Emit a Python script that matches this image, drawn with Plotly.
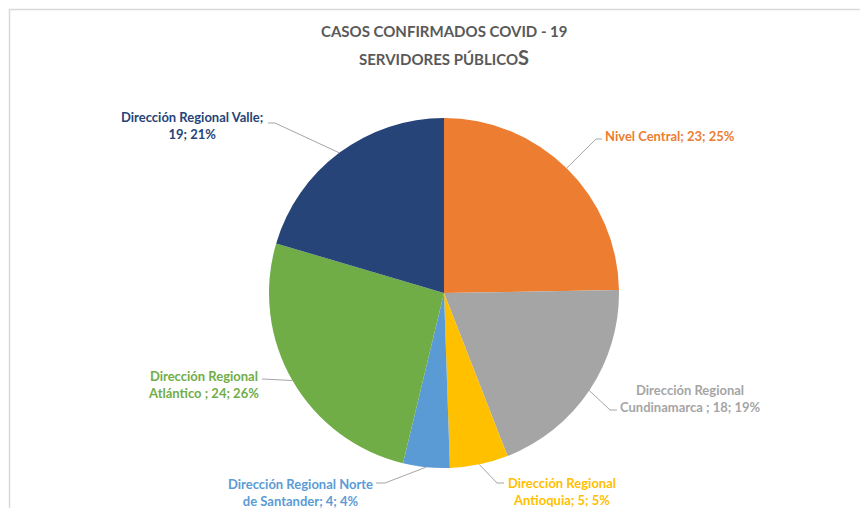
import math
import plotly.graph_objects as go

# ---------------- data ----------------
categories = [
    "Nivel Central",
    "Dirección Regional Cundinamarca",
    "Dirección Regional Antioquia",
    "Dirección Regional Norte de Santander",
    "Dirección Regional Atlántico",
    "Dirección Regional Valle",
]
values = [23, 18, 5, 4, 24, 19]
pct_labels = ["25%", "19%", "5%", "4%", "26%", "21%"]
colors = ["#ED7D31", "#A5A5A5", "#FFC000", "#5B9BD5", "#70AD47", "#264478"]

# label text templates (line breaks as shown in the chart)
label_templates = [
    "Nivel Central; {v}; {p}",
    "Dirección Regional<br>Cundinamarca ; {v}; {p}",
    "Dirección Regional<br>Antioquia; {v}; {p}",
    "Dirección Regional Norte<br>de Santander; {v}; {p}",
    "Dirección Regional<br>Atlántico ; {v}; {p}",
    "Dirección Regional Valle;<br>{v}; {p}",
]

# ---------------- layout constants (pixels, screen coordinates) ----------------
W, H = 868, 508
OFF = 8  # page offset of the figure inside the browser window
CX, CY, R = 444, 293, 175
FONT = "Lato"

# label placement: text anchor (x, y), xanchor, elbow point, line end point
label_layout = [
    dict(tx=603, ty=136, xa="left",   elbow=(596, 139), end=(602, 139)),
    dict(tx=690, ty=398, xa="center", elbow=(610, 410), end=(617, 410)),
    dict(tx=562, ty=491, xa="center", elbow=(497, 483), end=(504, 483)),
    dict(tx=300, ty=492, xa="center", elbow=(385, 483), end=(376, 483)),
    dict(tx=203, ty=384, xa="center", elbow=None,       end=(262, 379)),
    dict(tx=192, ty=125, xa="center", elbow=(275, 123), end=(268, 123)),
]


def px(x):
    return (x - OFF) / W


def py(y):
    return 1 - (y - OFF) / H


fig = go.Figure()
fig.add_trace(go.Pie(
    labels=categories,
    values=values,
    sort=False,
    direction="clockwise",
    rotation=0,
    marker=dict(colors=colors, line=dict(width=0)),
    textinfo="none",
    hoverinfo="label+value+percent",
    showlegend=False,
    domain=dict(x=[px(CX - R), px(CX + R)], y=[py(CY + R), py(CY - R)]),
))

# leader lines + labels, anchored at each slice's mid-angle on the pie edge
total = sum(values)
cum = 0
shapes = []
annotations = []
for i, v in enumerate(values):
    mid = (cum + v / 2) / total
    cum += v
    ang = 2 * math.pi * mid
    ex, ey = CX + R * math.sin(ang), CY - R * math.cos(ang)
    L = label_layout[i]
    pts = [(ex, ey)]
    if L["elbow"] is not None:
        pts.append(L["elbow"])
    pts.append(L["end"])
    path = "M " + " L ".join(f"{px(a):.5f},{py(b):.5f}" for a, b in pts)
    shapes.append(dict(type="path", path=path, xref="paper", yref="paper",
                       line=dict(color="#A6A6A6", width=1)))
    annotations.append(dict(
        x=px(L["tx"]), y=py(L["ty"]), xref="paper", yref="paper",
        xanchor=L["xa"], yanchor="middle", showarrow=False, align="center",
        text="<b>" + label_templates[i].format(v=v, p=pct_labels[i]) + "</b>",
        font=dict(family=FONT, size=13, color=colors[i]),
    ))

# title
annotations.append(dict(
    x=px(444), y=py(31), xref="paper", yref="paper", xanchor="center",
    yanchor="middle", showarrow=False,
    text="<b>CASOS CONFIRMADOS COVID - 19</b>",
    font=dict(family=FONT, size=15, color="#595959"),
))
annotations.append(dict(
    x=px(444), y=py(57), xref="paper", yref="paper", xanchor="center",
    yanchor="middle", showarrow=False,
    text="<b>SERVIDORES PÚBLICO<span style='font-size:20px'>S</span></b>",
    font=dict(family=FONT, size=15, color="#595959"),
))

# chart area border (top and left visible)
shapes.append(dict(type="path", xref="paper", yref="paper",
                   path=f"M {px(9.5)},{py(H + 20)} L {px(9.5)},{py(9.5)} L {px(W + 20)},{py(9.5)}",
                   line=dict(color="#D9D9D9", width=1.5)))

fig.update_layout(
    width=W, height=H,
    margin=dict(l=0, r=0, t=0, b=0),
    paper_bgcolor="white",
    plot_bgcolor="white",
    shapes=shapes,
    annotations=annotations,
    font=dict(family=FONT),
)

fig.write_html("out.html")
